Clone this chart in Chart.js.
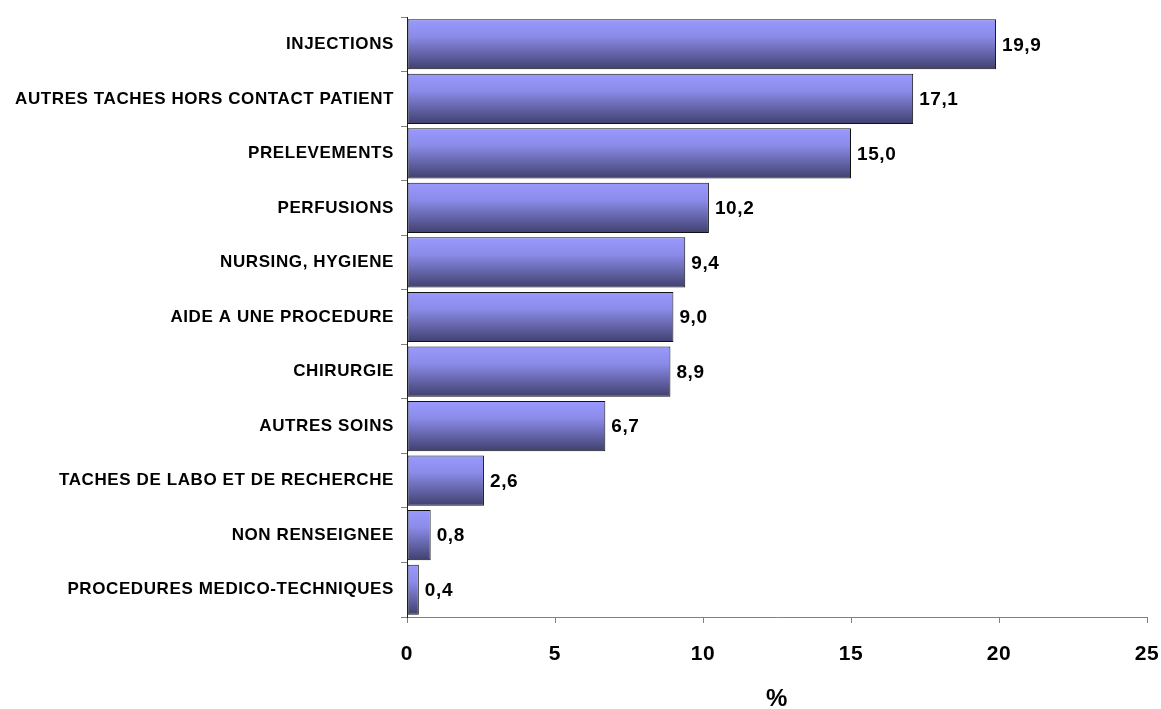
<!DOCTYPE html>
<html>
<head>
<meta charset="utf-8">
<script src="https://cdn.jsdelivr.net/npm/chart.js@4/dist/chart.umd.min.js"></script>
<style>
  html, body { margin: 0; padding: 0; background: #fff; }
  #wrap { width: 1161px; height: 709px; position: relative; }
</style>
</head>
<body>
<div id="wrap"><canvas id="c"></canvas></div>
<script>
// Task categories, top to bottom
const categories = [
  'INJECTIONS',
  'AUTRES TACHES HORS CONTACT PATIENT',
  'PRELEVEMENTS',
  'PERFUSIONS',
  'NURSING, HYGIENE',
  'AIDE A UNE PROCEDURE',
  'CHIRURGIE',
  'AUTRES SOINS',
  'TACHES DE LABO ET DE RECHERCHE',
  'NON RENSEIGNEE',
  'PROCEDURES MEDICO-TECHNIQUES'
];
// Share of exposures (%)
const percentages = [19.9, 17.1, 15.0, 10.2, 9.4, 9.0, 8.9, 6.7, 2.6, 0.8, 0.4];
// Axis ticks
const xTicks = [0, 5, 10, 15, 20, 25];
const xTitle = '%';

const FONT = "'Liberation Sans', Arial, sans-serif";
const BAR_PCT = 0.92;

const fmt = v => v.toFixed(1).replace('.', ',');

// Vertical gradient for each bar, computed from the category scale
function barGradient(ctx) {
  const chart = ctx.chart;
  const ys = chart.scales.y;
  if (!ys || ctx.type !== 'data' || !isFinite(ys.height) || ys.height <= 0) return '#8080d0';
  const c = ys.getPixelForValue(ctx.dataIndex);
  const half = (ys.height / categories.length) * BAR_PCT / 2;
  const g = chart.ctx.createLinearGradient(0, c - half, 0, c + half);
  g.addColorStop(0, '#9a9aff');
  g.addColorStop(0.35, '#8a8ae8');
  g.addColorStop(1, '#40406e');
  return g;
}

const spacing = {
  id: 'spacing',
  beforeUpdate(chart) { chart.ctx.letterSpacing = '0.6px'; },
  beforeDraw(chart) { chart.ctx.letterSpacing = '0.6px'; }
};

// Value labels at the end of each bar
const valueLabels = {
  id: 'valueLabels',
  afterDatasetsDraw(chart) {
    const ctx = chart.ctx;
    const meta = chart.getDatasetMeta(0);
    ctx.save();
    ctx.font = `bold 19px ${FONT}`;
    ctx.fillStyle = '#000';
    ctx.textAlign = 'left';
    ctx.textBaseline = 'middle';
    meta.data.forEach((bar, i) => {
      ctx.fillText(fmt(percentages[i]), bar.x + 6, bar.y + 1);
    });
    ctx.restore();
  }
};

new Chart(document.getElementById('c'), {
  type: 'bar',
  data: {
    labels: categories,
    datasets: [{
      data: percentages,
      backgroundColor: barGradient,
      borderColor: '#111',
      borderWidth: 1,
      borderSkipped: false,
      barPercentage: BAR_PCT,
      categoryPercentage: 1
    }]
  },
  options: {
    indexAxis: 'y',
    responsive: true,
    maintainAspectRatio: false,
    animation: false,
    layout: { padding: { top: 17, right: 14, left: 0, bottom: 0 } },
    plugins: { legend: { display: false }, tooltip: { enabled: false } },
    scales: {
      x: {
        min: 0, max: 25,
        afterBuildTicks(scale) { scale.ticks = xTicks.map(v => ({ value: v })); },
        afterFit(scale) { scale.height = 92; scale.paddingLeft = 0; scale.paddingRight = 0; },
        grid: { drawOnChartArea: false, drawTicks: true, tickLength: 6, color: '#808080' },
        border: { color: '#808080', width: 1 },
        ticks: { color: '#000', padding: 19, font: { family: FONT, size: 21, weight: 'bold' } },
        title: {
          display: true, text: xTitle, color: '#000',
          font: { family: FONT, size: 24, weight: 'bold', lineHeight: 0.84 },
          padding: { top: 0, bottom: 0 }
        }
      },
      y: {
        afterFit(scale) { scale.width = 407; scale.paddingTop = 0; scale.paddingBottom = 0; },
        grid: { drawOnChartArea: false, drawTicks: true, tickLength: 6, color: '#808080', offset: true },
        border: { color: '#222', width: 1 },
        ticks: { color: '#000', padding: 7, autoSkip: false, font: { family: FONT, size: 17, weight: 'bold' } }
      }
    }
  },
  plugins: [spacing, valueLabels]
});
</script>
</body>
</html>
